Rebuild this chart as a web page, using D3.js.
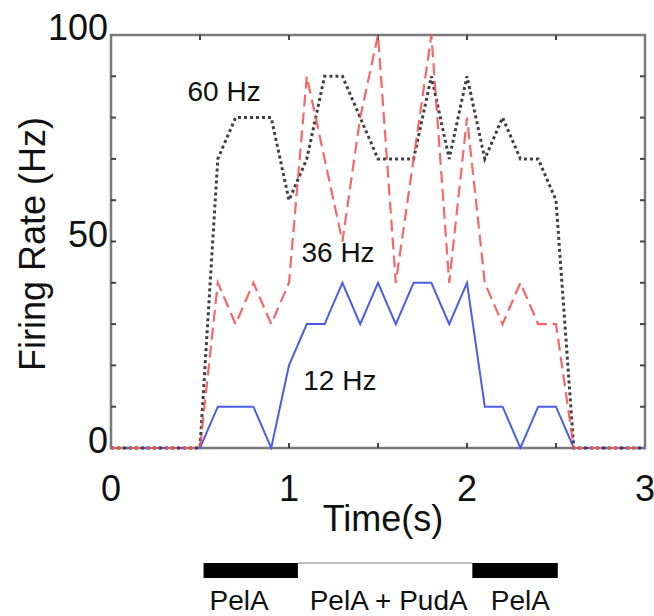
<!DOCTYPE html>
<html>
<head>
<meta charset="utf-8">
<script src="https://cdn.jsdelivr.net/npm/d3@7"></script>
<style>
  html, body { margin: 0; padding: 0; background: #fff; }
  svg { display: block; font-family: "Liberation Sans", Arial, sans-serif; }
</style>
</head>
<body>
<svg id="chart" width="654" height="616"></svg>
<script>
// ---- data ----
const times = [0, 0.1, 0.2, 0.3, 0.4, 0.5, 0.6, 0.7, 0.8, 0.9, 1.0, 1.1, 1.2, 1.3, 1.4, 1.5,
               1.6, 1.7, 1.8, 1.9, 2.0, 2.1, 2.2, 2.3, 2.4, 2.5, 2.6, 2.7, 2.8, 2.9, 3.0];
const rate12 = [0, 0, 0, 0, 0, 0, 10, 10, 10, 0, 20, 30, 30, 40, 30, 40,
                30, 40, 40, 30, 40, 10, 10, 0, 10, 10, 0, 0, 0, 0, 0];
const rate36 = [0, 0, 0, 0, 0, 0, 40, 30, 40, 30, 40, 90, 70, 50, 80, 100,
                40, 70, 100, 40, 80, 40, 30, 40, 30, 30, 0, 0, 0, 0, 0];
const rate60 = [0, 0, 0, 0, 0, 0, 70, 80, 80, 80, 60, 70, 90, 90, 80, 70,
                70, 70, 90, 70, 90, 70, 80, 70, 70, 60, 0, 0, 0, 0, 0];
const seriesLabels = ["12 Hz", "36 Hz", "60 Hz"];
const labelAnchors = [[1.08, 14], [1.07, 45], [0.43, 84]]; // [time, rate] where each label sits
const xTicks = [0, 1, 2, 3];
const yTicks = [0, 50, 100];
const protocolNames = ["PelA", "PelA + PudA", "PelA"];
const protocolStart = [0.52, 1.05, 2.03];
const protocolEnd = [1.05, 2.03, 2.51];
const protocolLabelAt = [0.72, 1.56, 2.30];
const protocolDrug = [true, false, true];

(function () {
// ---- layout ----
const svg = d3.select("#chart");
const pLeft = 111, pRight = 645, pTop = 35, pBottom = 448;
const x = d3.scaleLinear().domain([0, 3]).range([pLeft, pRight]);
const y = d3.scaleLinear().domain([0, 100]).range([pBottom, pTop]);

svg.append("clipPath").attr("id", "clip")
  .append("rect").attr("x", pLeft).attr("y", pTop - 4).attr("width", pRight - pLeft).attr("height", pBottom - pTop + 6);

// frame
svg.append("rect").attr("x", pLeft).attr("y", pTop).attr("width", pRight - pLeft).attr("height", pBottom - pTop)
  .attr("fill", "none").attr("stroke", "#7a7a7a").attr("stroke-width", 2.5);

// inward ticks (every 0.5 s and every 10 Hz) on all four sides
const tickLen = 5;
const gT = svg.append("g").attr("stroke", "#444").attr("stroke-width", 2);
d3.range(0.5, 3, 0.5).forEach(t => {
  gT.append("line").attr("x1", x(t)).attr("x2", x(t)).attr("y1", pBottom).attr("y2", pBottom - tickLen);
  gT.append("line").attr("x1", x(t)).attr("x2", x(t)).attr("y1", pTop).attr("y2", pTop + tickLen);
});
d3.range(10, 100, 10).forEach(v => {
  gT.append("line").attr("x1", pLeft).attr("x2", pLeft + tickLen).attr("y1", y(v)).attr("y2", y(v));
  gT.append("line").attr("x1", pRight).attr("x2", pRight - tickLen).attr("y1", y(v)).attr("y2", y(v));
});

// lines
const line = d3.line().x((d, i) => x(times[i])).y(d => y(d));
const gL = svg.append("g").attr("clip-path", "url(#clip)").attr("fill", "none");
gL.append("path").datum(rate12).attr("d", line)
  .attr("stroke", "#4a5ee8").attr("stroke-width", 2);
gL.append("path").datum(rate60).attr("d", line)
  .attr("stroke", "#404040").attr("stroke-width", 3).attr("stroke-dasharray", "3,3");
gL.append("path").datum(rate36).attr("d", line)
  .attr("stroke", "#f65656").attr("stroke-width", 2.2).attr("stroke-dasharray", "12,6").attr("stroke-opacity", 0.9);

// series labels
svg.append("g").selectAll("text").data(seriesLabels).join("text")
  .attr("x", (d, i) => x(labelAnchors[i][0]))
  .attr("y", (d, i) => y(labelAnchors[i][1]))
  .attr("font-size", 28).attr("fill", "#111")
  .text(d => d);

// tick labels
svg.append("g").selectAll("text").data(xTicks).join("text")
  .attr("x", d => x(d)).attr("y", 501)
  .attr("text-anchor", "middle").attr("font-size", 36).attr("fill", "#111")
  .text(d => d);
svg.append("g").selectAll("text").data(yTicks).join("text")
  .attr("x", 108).attr("y", d => y(d) + 5)
  .attr("text-anchor", "end").attr("font-size", 36).attr("fill", "#111")
  .text(d => d);

// axis titles
svg.append("text").attr("x", 383).attr("y", 531).attr("text-anchor", "middle")
  .attr("font-size", 36).attr("fill", "#111").text("Time(s)");
svg.append("text").attr("transform", "translate(45,244) rotate(-90)").attr("text-anchor", "middle")
  .attr("font-size", 36).attr("fill", "#111").text("Firing Rate (Hz)");

// protocol bar
const gP = svg.append("g");
protocolNames.forEach((name, i) => {
  if (protocolDrug[i]) {
    gP.append("rect").attr("x", x(protocolStart[i])).attr("y", 563)
      .attr("width", x(protocolEnd[i]) - x(protocolStart[i])).attr("height", 15).attr("fill", "#000");
  } else {
    gP.append("line").attr("x1", x(protocolStart[i])).attr("x2", x(protocolEnd[i]))
      .attr("y1", 563).attr("y2", 563).attr("stroke", "#aaa").attr("stroke-width", 1.5);
  }
  gP.append("text").attr("x", x(protocolLabelAt[i])).attr("y", 610)
    .attr("text-anchor", "middle").attr("font-size", 28).attr("fill", "#111").text(name);
});
})();
</script>
</body>
</html>
